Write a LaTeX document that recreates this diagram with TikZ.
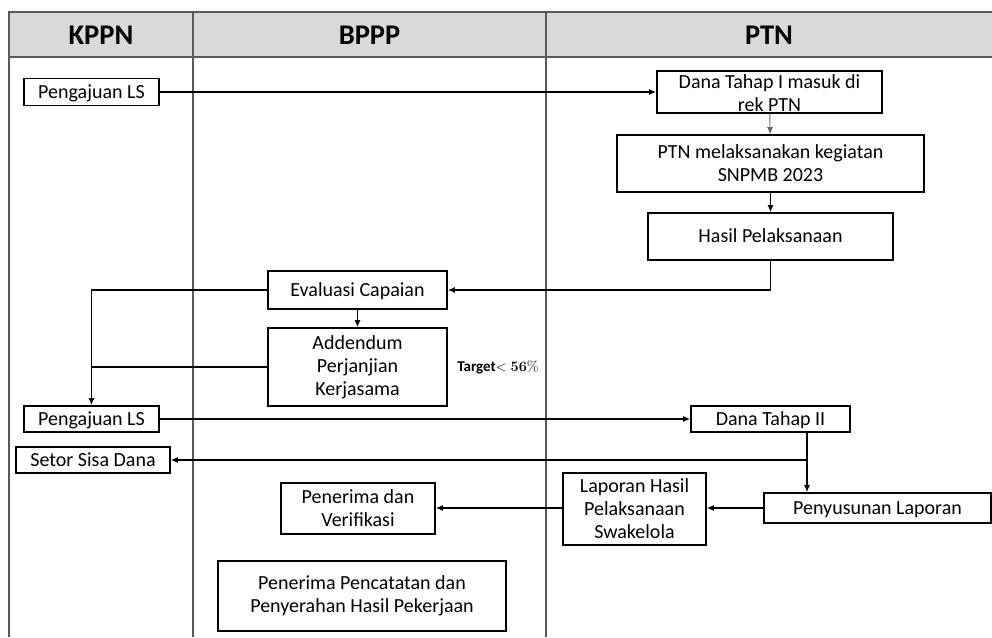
\documentclass[tikz,border=0pt]{standalone}
\usepackage[no-math]{fontspec}
\setmainfont{Carlito}
\usetikzlibrary{arrows.meta,calc}
\tikzset{
  box/.style={draw=black, fill=white, line width=1.6pt, inner sep=0pt, align=center,
    font=\fontsize{20}{23}\selectfont},
  single/.style={text height=16.6pt, text depth=3.8pt},
  lane/.style={draw=black!65, line width=1.4pt},
  head/.style={font=\fontsize{28.5}{30}\selectfont\bfseries},
  flow/.style={line width=1.4pt, -{Latex[length=7pt,width=6pt]}},
  joint/.style={line width=1.4pt}
}

\begin{document}
\begin{tikzpicture}[x=1pt,y=-1pt]
% Alur pencairan dana SNPMB 2023: KPPN - BPPP - PTN
\useasboundingbox (0,0) rectangle (992,637);
\fill[black!15] (9,12) rectangle (992,57);
\draw[lane] (992,12) -- (9,12) -- (9,637);
\draw[lane] (9,57) -- (992,57);
\draw[lane] (193,12) -- (193,637);
\draw[lane] (546,12) -- (546,637);
\node (kppn) at (101,35) [head] {KPPN};
\node (bppp) at (369.5,35) [head] {BPPP};
\node (ptn) at (769,35) [head] {PTN};

\node (ls1) at (91.5,92) [box, single, minimum width=135pt, minimum height=27pt] {Pengajuan LS};
\node (dana1) at (769.5,92) [box, text height=39.5pt, minimum width=225pt, minimum height=42pt] {Dana Tahap I masuk di\\rek PTN};
\node (laksana) at (770.5,163.5) [box, minimum width=307pt, minimum height=57pt] {PTN melaksanakan kegiatan\\SNPMB 2023};
\node (hasil) at (770.5,236.5) [box, single, minimum width=245pt, minimum height=47pt] {Hasil Pelaksanaan};
\node (eval) at (357.5,290) [box, single, minimum width=179pt, minimum height=38pt] {Evaluasi Capaian};
\node (addendum) at (357.5,367) [box, minimum width=179pt, minimum height=78pt] {Addendum\\Perjanjian\\Kerjasama};
\node (target) at (498,367) [font=\fontsize{15}{17}\selectfont] {\textbf{Target}$<\mathbf{56\%}$};
\node (ls2) at (91.5,419) [box, single, minimum width=135pt, minimum height=26pt] {Pengajuan LS};
\node (dana2) at (770.5,419) [box, single, minimum width=159pt, minimum height=26pt] {Dana Tahap II};
\node (setor) at (93,460) [box, single, minimum width=154pt, minimum height=26pt] {Setor Sisa Dana};
\node (susun) at (877.5,508) [box, single, minimum width=227pt, minimum height=30pt] {Penyusunan Laporan};
\node (laporan) at (634.5,509) [box, minimum width=143pt, minimum height=72pt] {Laporan Hasil\\Pelaksanaan\\Swakelola};
\node (verif) at (358,508.5) [box, minimum width=154pt, minimum height=51pt] {Penerima dan\\Verifikasi};
\node (catat) at (362,596) [box, minimum width=288pt, minimum height=70pt] {Penerima Pencatatan dan\\Penyerahan Hasil Pekerjaan};
\coordinate (sisa) at (807,460);

\draw[flow, line width=2.2pt] (ls1) -- (dana1);
\draw[flow, draw=black!60, line width=0.9pt] (dana1) -- (laksana);
\draw[flow] (laksana) -- (hasil);
\draw[flow] (hasil.south) |- (eval.east);
\draw[flow] (eval) -- (addendum);
\draw[flow] (eval.west) -| (ls2.north);
\draw[joint] (addendum.west) -- (addendum.west -| ls2.north);
\draw[flow] (ls2) -- (dana2);
\draw[flow] (dana2.south -| sisa) -- (susun.north -| sisa);
\draw[flow] (sisa) -- (setor.east);
\draw[flow] (susun.west) -- (laporan.east |- susun.west);
\draw[flow] (laporan.west |- susun.west) -- (verif.east |- susun.west);
\end{tikzpicture}
\end{document}
